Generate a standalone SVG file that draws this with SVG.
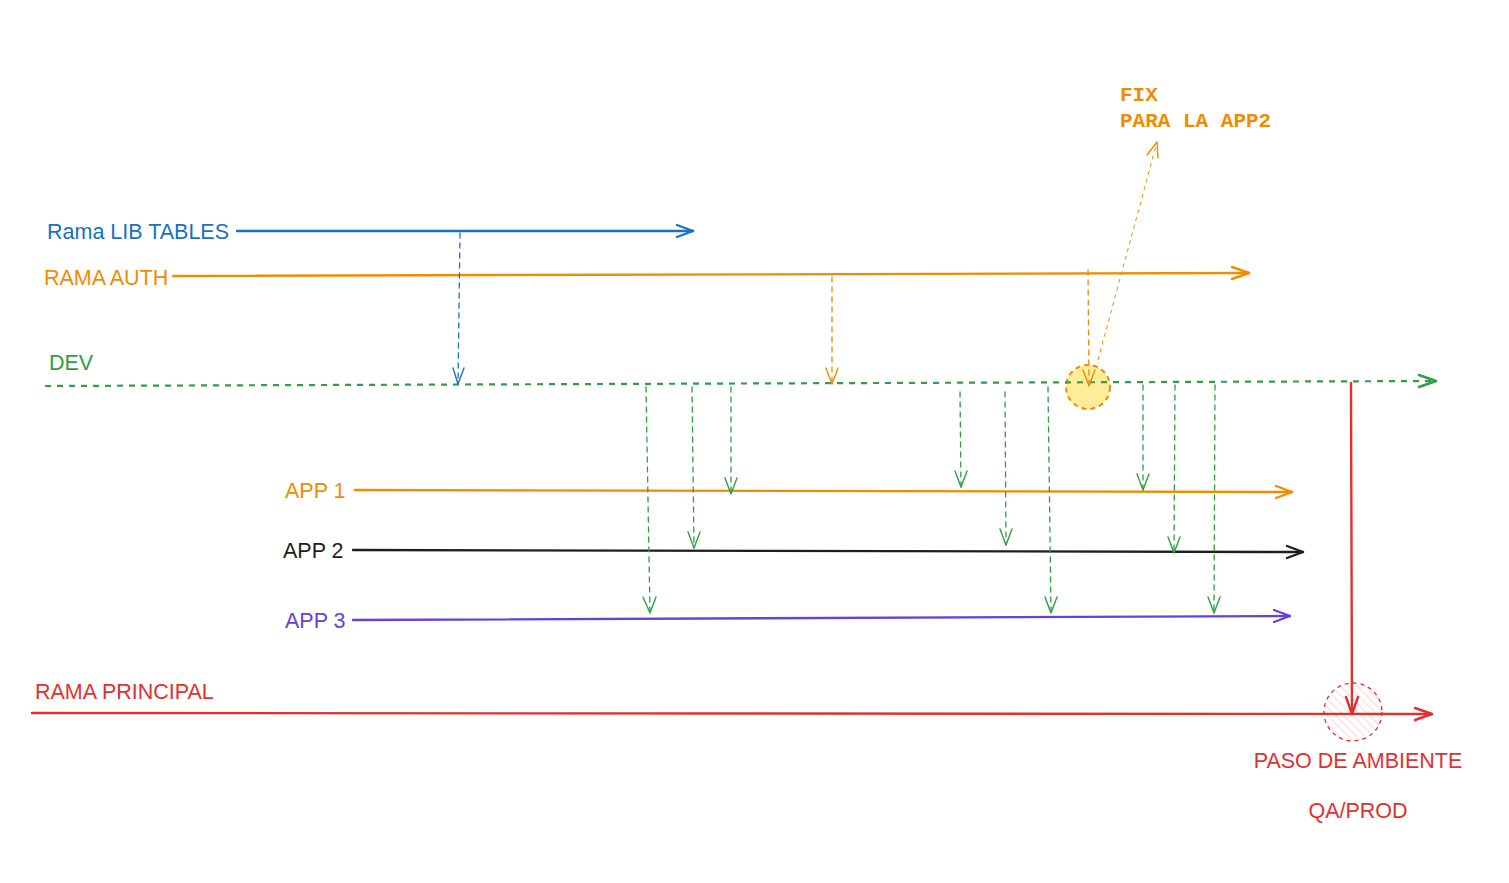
<svg xmlns="http://www.w3.org/2000/svg" width="1509" height="883" viewBox="0 0 1509 883">
<style>
text{font-family:"Liberation Sans",Arial,sans-serif;font-size:21.5px}
.mono{font-family:"Liberation Mono","DejaVu Sans Mono",monospace;font-size:21px;font-weight:bold}
.ln{fill:none;stroke-width:2.4;stroke-linecap:round}
.dash{fill:none;stroke-width:1.3;stroke-dasharray:5 5;stroke-linecap:round}
.ah{fill:none;stroke-width:1.4;stroke-linecap:round;stroke-linejoin:round}
.ahb{fill:none;stroke-width:2.4;stroke-linecap:round;stroke-linejoin:round}
</style>
<defs>
<pattern id="hatch" patternUnits="userSpaceOnUse" width="6" height="6" patternTransform="rotate(-45)">
<line x1="0" y1="0" x2="0" y2="6" stroke="#ffc9c9" stroke-width="1.5"/>
</pattern>
</defs>
<rect width="1509" height="883" fill="#ffffff"/>

<g id="node-libtables">
<text x="47" y="239" fill="#1971c2">Rama LIB TABLES</text>
</g>
<g id="node-auth">
<text x="44" y="285" fill="#f08c00">RAMA AUTH</text>
</g>
<g id="node-dev">
<text x="49" y="370" fill="#2f9e44">DEV</text>
</g>
<g id="node-app1">
<text x="285" y="498" fill="#f08c00">APP 1</text>
</g>
<g id="node-app2">
<text x="283" y="558" fill="#1e1e1e">APP 2</text>
</g>
<g id="node-app3">
<text x="285" y="628" fill="#6741d9">APP 3</text>
</g>
<g id="node-principal">
<text x="35" y="699" fill="#e03131">RAMA PRINCIPAL</text>
</g>
<g id="node-fix">
<text class="mono" x="1120" y="101" fill="#f08c00">FIX</text>
<text class="mono" x="1120" y="127" fill="#f08c00">PARA LA APP2</text>
</g>
<g id="node-fixcircle">
<circle cx="1088" cy="387" r="22" fill="#ffec99" stroke="#f08c00" stroke-width="2" stroke-dasharray="5 4"/>
</g>
<g id="node-paso">
<circle cx="1353" cy="712" r="29" fill="url(#hatch)" stroke="#e03131" stroke-width="1.3" stroke-dasharray="4 4"/>
<text x="1358" y="768" fill="#e03131" text-anchor="middle">PASO DE AMBIENTE</text>
<text x="1358" y="818" fill="#e03131" text-anchor="middle">QA/PROD</text>
</g>

<g id="connectors">
<path class="ln" stroke="#1971c2" d="M237 231 L693 231"/>
<path class="ahb" stroke="#1971c2" d="M677 225 L693 231 L677 237"/>
<path class="ln" stroke="#f08c00" d="M173 276 L1249 273"/>
<path class="ahb" stroke="#f08c00" d="M1232 267 L1249 273 L1232 279"/>
<path fill="none" stroke="#2f9e44" stroke-width="2.2" stroke-dasharray="6 6" d="M45 386 L1436 381"/>
<path class="ahb" stroke="#2f9e44" d="M1419 375 L1436 381 L1419 387"/>
<path class="ln" stroke="#f08c00" d="M355 490 L1292 492"/>
<path class="ahb" stroke="#f08c00" d="M1276 486 L1292 492 L1276 498"/>
<path class="ln" stroke="#1e1e1e" d="M353 550 L1303 552"/>
<path class="ahb" stroke="#1e1e1e" d="M1287 546 L1303 552 L1287 558"/>
<path class="ln" stroke="#6741d9" d="M353 620 L1290 616"/>
<path class="ahb" stroke="#6741d9" d="M1274 610 L1290 616 L1274 622"/>
<path class="ln" stroke="#e03131" d="M32 713 L1432 714"/>
<path class="ahb" stroke="#e03131" d="M1415 708 L1432 714 L1415 720"/>
<path class="ln" stroke="#e03131" d="M1351 383 L1352 714"/>
<path class="ahb" stroke="#e03131" d="M1346 697 L1352 714 L1358 697"/>

<path class="dash" stroke="#1971c2" d="M460 233 L458 384"/>
<path class="ah" stroke="#1971c2" d="M453 368 L458 384 L464 368"/>
<path class="dash" stroke="#f08c00" d="M832 277 L832 384"/>
<path class="ah" stroke="#f08c00" d="M826 368 L832 384 L838 368"/>
<path class="dash" stroke="#f08c00" d="M1088 270 L1089 386"/>
<path class="ah" stroke="#f08c00" d="M1083 370 L1089 386 L1095 370"/>
<path fill="none" stroke="#f08c00" stroke-width="1" stroke-dasharray="4 4" d="M1098 360 L1157 142"/>
<path class="ah" stroke="#f08c00" stroke-width="1" d="M1147 155 L1157 142 L1158 158"/>

<path class="dash" stroke="#2f9e44" d="M646 387 L650 613"/>
<path class="ah" stroke="#2f9e44" d="M643 597 L650 613 L656 597"/>
<path class="dash" stroke="#2f9e44" d="M692 387 L694 548"/>
<path class="ah" stroke="#2f9e44" d="M688 532 L694 548 L700 532"/>
<path class="dash" stroke="#2f9e44" d="M731 387 L731 494"/>
<path class="ah" stroke="#2f9e44" d="M725 478 L731 494 L737 478"/>
<path class="dash" stroke="#2f9e44" d="M960 392 L961 487"/>
<path class="ah" stroke="#2f9e44" d="M955 471 L961 487 L967 471"/>
<path class="dash" stroke="#2f9e44" d="M1005 392 L1006 545"/>
<path class="ah" stroke="#2f9e44" d="M1000 529 L1006 545 L1012 529"/>
<path class="dash" stroke="#2f9e44" d="M1048 387 L1051 613"/>
<path class="ah" stroke="#2f9e44" d="M1045 597 L1051 613 L1057 597"/>
<path class="dash" stroke="#2f9e44" d="M1143 385 L1143 490"/>
<path class="ah" stroke="#2f9e44" d="M1137 474 L1143 490 L1149 474"/>
<path class="dash" stroke="#2f9e44" d="M1175 385 L1174 553"/>
<path class="ah" stroke="#2f9e44" d="M1168 537 L1174 553 L1180 537"/>
<path class="dash" stroke="#2f9e44" d="M1215 385 L1214 613"/>
<path class="ah" stroke="#2f9e44" d="M1208 597 L1214 613 L1220 597"/>
</g>
</svg>
